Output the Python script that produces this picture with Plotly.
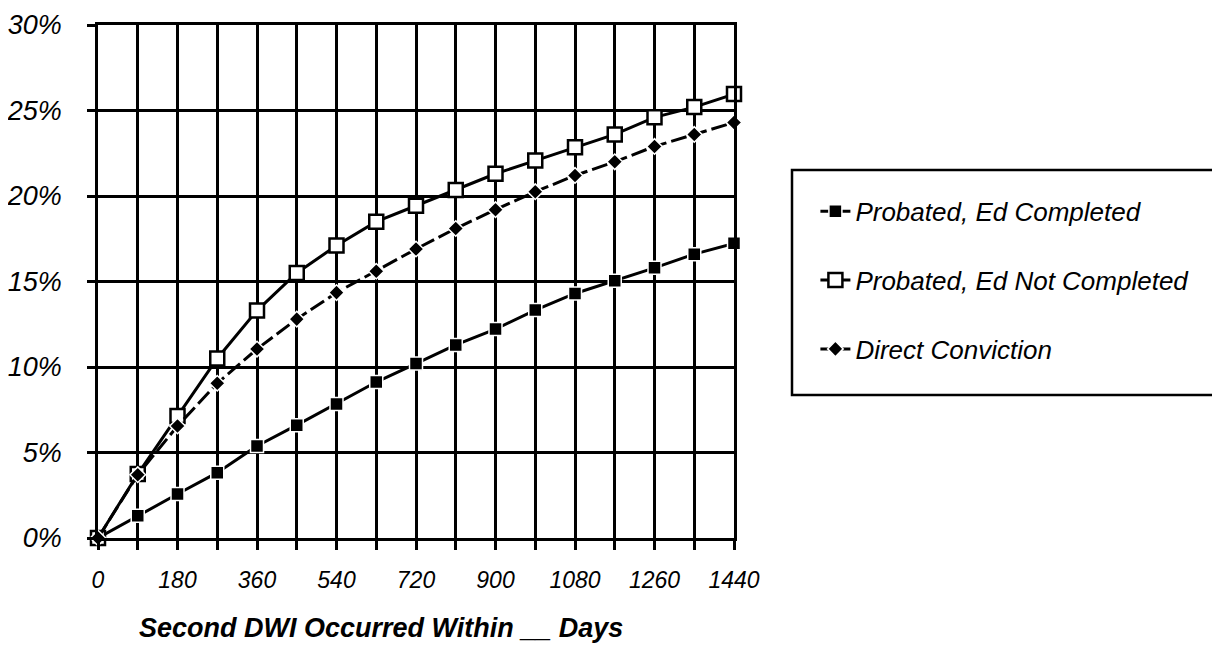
import plotly.graph_objects as go

days = [0, 90, 180, 270, 360, 450, 540, 630, 720, 810, 900, 990, 1080, 1170, 1260, 1350, 1440]
ed_completed = [0, 1.3, 2.57, 3.82, 5.38, 6.6, 7.84, 9.12, 10.2, 11.29, 12.22, 13.33, 14.3, 15.05, 15.8, 16.6, 17.23]
ed_not_completed = [0, 3.74, 7.13, 10.5, 13.3, 15.5, 17.1, 18.5, 19.43, 20.35, 21.3, 22.07, 22.85, 23.6, 24.6, 25.2, 25.96]
direct_conviction = [0, 3.7, 6.55, 9.05, 11.05, 12.8, 14.35, 15.6, 16.9, 18.1, 19.2, 20.25, 21.2, 22.0, 22.9, 23.6, 24.3]
x_tick_labels = ["0", "180", "360", "540", "720", "900", "1080", "1260", "1440"]
y_ticks = [0, 5, 10, 15, 20, 25, 30]

FONT = "Liberation Sans, Arial, sans-serif"

fig = go.Figure()
fig.add_trace(go.Scatter(
    x=days, y=[v / 100 for v in ed_completed], name="Probated, Ed Completed",
    mode="lines+markers", legendgroup="a", cliponaxis=False,
    line=dict(color="black", width=3),
    marker=dict(symbol="square", size=13, color="black", line=dict(color="white", width=1.5)),
))
fig.add_trace(go.Scatter(
    x=days, y=[v / 100 for v in ed_not_completed], name="Probated, Ed Not Completed",
    mode="lines+markers", legendgroup="b", cliponaxis=False,
    line=dict(color="black", width=3),
    marker=dict(symbol="square", size=14, color="white", line=dict(color="black", width=2.5)),
))
fig.add_trace(go.Scatter(
    x=days, y=[v / 100 for v in direct_conviction], name="Direct Conviction",
    mode="lines+markers", legendgroup="c", cliponaxis=False,
    line=dict(color="black", width=3, dash="16px,5px"),
    marker=dict(symbol="diamond", size=12, color="black", line=dict(color="white", width=1.5)),
))

tickvals = days
ticktext = []
for d in days:
    s = str(d)
    ticktext.append(s if s in x_tick_labels else "")

fig.update_layout(
    width=1212, height=638,
    margin=dict(l=90, r=486, t=17, b=108),
    paper_bgcolor="white", plot_bgcolor="white",
    font=dict(family=FONT, color="black"),
    showlegend=True,
    legend=dict(
        x=1.128, y=0.6825, xanchor="left", yanchor="top",
        font=dict(size=26, family=FONT, style="italic"),
        tracegroupgap=32, itemwidth=30, bgcolor="rgba(0,0,0,0)",
        borderwidth=0,
    ),
    xaxis=dict(
        range=[0, 1440], tickmode="array", tickvals=tickvals, ticktext=ticktext,
        showgrid=True, gridcolor="black", gridwidth=2.5,
        showline=True, linecolor="black", linewidth=2.5, mirror=True,
        ticks="outside", ticklen=9, tickwidth=2.5, tickcolor="black",
        tickfont=dict(size=23, family=FONT, style="italic"),
        ticklabelstandoff=11, zeroline=False, automargin=False,
    ),
    yaxis=dict(
        range=[0, 0.30], tickmode="array", tickvals=[v / 100 for v in y_ticks],
        ticktext=[f"{v}%" for v in y_ticks],
        showgrid=True, gridcolor="black", gridwidth=2.5,
        showline=True, linecolor="black", linewidth=2.5, mirror=True,
        ticks="outside", ticklen=8, tickwidth=2.5, tickcolor="black",
        tickfont=dict(size=27, family=FONT, style="italic"),
        ticklabelstandoff=20, zeroline=False, automargin=False,
    ),
    shapes=[dict(
        type="rect", xref="paper", yref="paper",
        x0=1.0912, x1=1.78, y0=0.2788, y1=0.7173,
        line=dict(color="black", width=2.5), fillcolor="rgba(0,0,0,0)", layer="above",
    )],
    annotations=[dict(
        text="<b><i>Second DWI Occurred Within __ Days</i></b>",
        xref="paper", yref="paper", x=(381 - 98) / 636, y=(538 - 628) / 513,
        xanchor="center", yanchor="middle", showarrow=False,
        font=dict(size=27, family=FONT, color="black"),
    )],
)

fig.write_html("out.html")
